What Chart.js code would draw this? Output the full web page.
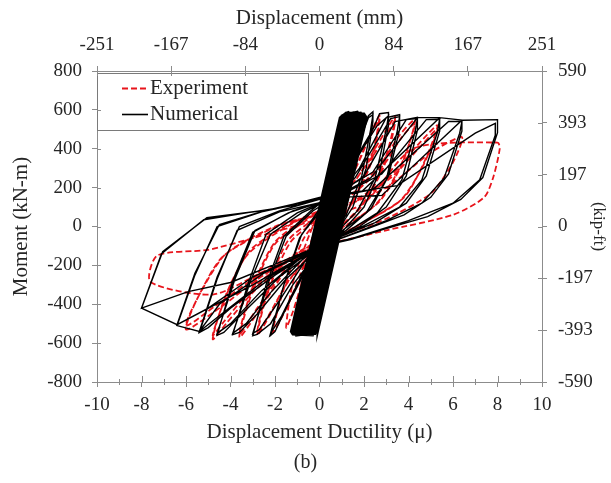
<!DOCTYPE html>
<html>
<head>
<meta charset="utf-8">
<script src="https://cdn.jsdelivr.net/npm/chart.js@4.4.1/dist/chart.umd.min.js"></script>
<style>
  html, body { margin: 0; padding: 0; background: #fff; }
  #c { display: block; }
</style>
</head>
<body>
<canvas id="c" width="611" height="483"></canvas>
<script>
// Moment vs displacement ductility, cyclic response of the column.
// Each pair is [ductility, moment (kN-m)] along the load path.

// Experiment: small cycles around the elastic range
const experimentSmall = [
  [0, 0],
  [0.25, 180], [0.5, 330], [0.35, 170], [0.05, 0], [-0.25, -170], [-0.5, -320], [-0.35, -160], [-0.05, 20],
  [0.5, 250], [1.0, 470], [0.75, 260], [0.15, 0], [-0.5, -230], [-1.0, -460], [-0.75, -250], [-0.15, 10],
  [0.6, 230], [1.2, 420], [1.5, 530], [1.2, 300], [0.3, 0], [-0.7, -260], [-1.2, -440], [-1.5, -520], [-1.2, -290], [-0.3, 0],
  [0.6, 180], [1.5, 420], [2.0, 560], [1.6, 320], [0.6, 40], [-0.4, -120], [-1.4, -400], [-2.1, -545], [-1.6, -320], [-0.7, -60]
];

// Experiment: inelastic cycles with pinching (two cycles per level)
const experimentLarge = [
  [0.4, 100], [1.6, 300], [2.3, 480], [2.7, 570], [2.3, 340], [1.3, 90], [0, -80], [-1.5, -300], [-2.3, -470], [-2.8, -560], [-2.3, -330], [-1.3, -80],
  [0, 50], [1.4, 250], [2.3, 470], [2.7, 550], [2.3, 320], [1.2, 70], [0, -90], [-1.4, -280], [-2.3, -460], [-2.8, -545], [-2.3, -310], [-1.4, -70],
  [0, 60], [1.5, 220], [2.7, 440], [3.4, 565], [2.9, 330], [1.9, 110], [0.5, -40], [-1.2, -180], [-2.7, -430], [-3.6, -570], [-3.0, -330], [-2.0, -90],
  [-0.5, 40], [1.3, 200], [2.8, 430], [3.4, 545], [2.9, 310], [1.8, 90], [0.4, -50], [-1.3, -190], [-2.8, -420], [-3.6, -555], [-3.0, -310], [-2.0, -80],
  [-0.6, 40], [1.2, 140], [2.8, 330], [3.6, 470], [4.3, 550], [3.7, 320], [2.7, 130], [1.0, -10], [-1.0, -140], [-3.0, -340], [-4.2, -500], [-4.8, -580], [-4.2, -350], [-3.2, -140],
  [-1.0, 30], [1.3, 150], [2.9, 320], [3.7, 460], [4.3, 530], [3.6, 300], [2.5, 110], [0.8, -20], [-1.2, -150], [-3.1, -330], [-4.3, -490], [-4.8, -560], [-4.1, -330], [-3.1, -120],
  [-1.2, 20], [1.0, 100], [3.0, 240], [4.5, 430], [5.3, 520], [4.7, 330], [3.8, 150], [2.0, 20], [0, -100], [-2.5, -250], [-4.5, -420], [-6.0, -530], [-5.4, -350], [-4.3, -150],
  [-1.6, 15], [1.0, 90], [3.2, 250], [4.6, 420], [5.3, 500], [4.6, 300], [3.6, 130], [1.8, 10], [0, -95], [-2.7, -250], [-4.7, -410], [-6.0, -510], [-5.3, -330], [-4.2, -140],
  [-2.0, 0], [0.5, 80], [3.0, 200], [5.0, 380], [6.4, 460], [6.0, 330], [5.0, 170], [3.0, 40], [0, -90], [-2.5, -230], [-4.8, -350], [-7.6, -285],
  [-7.3, -150], [-5.0, -120], [-3.0, -60], [0, 40], [2.0, 120], [4.2, 400], [8.0, 432],
  [8.1, 400], [7.8, 250], [7.4, 150], [6.0, 60], [3.0, -20], [0, -100]
];

// Numerical model: elastic cycles forming the dense core
const numericalElastic = [
  [0, 0],
  [-0.08, -540], [1.0, 0], [2.12, 560], [2.0, 580], [1.2, 585], [0.92, 560], [-0.2, 0], [-1.28, -540], [-1.2, -555], [-0.3, -560], [-0.23, -540],
  [0.85, 0], [1.97, 560], [1.85, 585], [1.1, 575], [1.07, 560], [-0.05, 0], [-1.13, -540], [-1.05, -560], [-0.4, -550], [-0.38, -540],
  [0.7, 0], [1.82, 560], [1.7, 590], [1.3, 580], [1.22, 560], [0.1, 0], [-0.98, -540], [-0.9, -555], [-0.55, -550], [-0.53, -540],
  [0.55, 0], [1.67, 560], [1.55, 575], [1.37, 560], [0.25, 0], [-0.83, -540], [-0.72, -552], [-0.68, -540],
  [0.4, 0], [1.52, 560], [1.3, 588], [1.0, 570], [0.995, 560], [-0.125, 0], [-1.2, -540], [-1.1, -555], [-0.2, -552], [-0.155, -540],
  [0.925, 0], [2.045, 560], [1.9, 578], [1.295, 560], [0.175, 0], [-0.905, -540],
  [-0.305, -540], [0.775, 0], [1.895, 560], [1.75, 582], [1.145, 560], [0.025, 0], [-1.055, -540], [-0.95, -552], [-0.455, -545],
  [0.625, 0], [1.745, 560], [1.6, 580], [1.445, 560], [0.325, 0], [-0.755, -540], [-0.65, -550], [-0.605, -540],
  [0.475, 0], [1.595, 560], [1.5, 585], [1.04, 560], [-0.08, 0]
];

// Numerical model: inelastic cycles (two cycles per level)
const numericalInelastic = [
  [0.2, 0], [1.5, 400], [2.2, 570], [2.4, 590],
  [2.4, 540], [2.1, 300], [1.5, 100], [0.6, -60], [-0.5, -200], [-1.5, -420], [-2.0, -540], [-2.2, -560],
  [-1.6, -300], [-0.8, -40], [0.2, 100], [1.3, 300], [2.2, 560], [2.4, 575],
  [2.3, 500], [1.9, 260], [1.2, 60], [0.3, -70], [-0.8, -250], [-1.7, -460], [-2.2, -550],
  [-1.6, -300], [-0.9, -60], [0, 90], [1.0, 230], [2.4, 500], [2.7, 580], [3.1, 586],
  [3.1, 520], [2.7, 280], [2.0, 100], [1.0, -30], [0, -120], [-1.2, -300], [-2.2, -500], [-2.8, -555], [-3.0, -562],
  [-2.4, -300], [-1.6, -50], [-0.4, 80], [0.8, 190], [2.6, 520], [3.1, 570],
  [3.0, 500], [2.5, 250], [1.7, 80], [0.6, -50], [-0.6, -170], [-1.8, -380], [-2.7, -530], [-3.0, -550],
  [-2.3, -290], [-1.5, -50], [-0.3, 80], [0.8, 160], [1.8, 300], [3.0, 560], [3.6, 575],
  [3.6, 500], [3.1, 260], [2.3, 90], [1.2, -20], [0, -110], [-1.5, -270], [-2.8, -450], [-3.6, -545], [-3.9, -556],
  [-3.2, -290], [-2.4, -40], [-1.0, 70], [0.4, 140], [1.6, 250], [3.2, 555], [3.6, 565],
  [3.5, 495], [3.0, 240], [2.1, 70], [0.8, -40], [-0.6, -150], [-2.2, -340], [-3.3, -500], [-3.9, -550],
  [-3.1, -280], [-2.2, -40], [-0.8, 70], [0.5, 140], [2.0, 260], [3.4, 540], [4.4, 562],
  [4.4, 495], [3.9, 260], [3.0, 100], [1.8, 0], [0, -105], [-1.8, -260], [-3.4, -440], [-4.3, -545], [-4.6, -560],
  [-3.9, -280], [-3.0, -30], [-1.4, 70], [0.2, 130], [2.4, 280], [3.9, 550], [4.4, 555],
  [4.3, 490], [3.7, 240], [2.6, 70], [1.2, -30], [-0.6, -140], [-2.6, -330], [-4.0, -500], [-4.6, -550],
  [-3.8, -270], [-2.9, -20], [-1.2, 80], [0.5, 140], [2.3, 250], [4.4, 560], [5.4, 560],
  [5.4, 490], [4.8, 260], [3.9, 120], [2.5, 20], [1.0, -50], [0, -105], [-2.0, -250], [-4.0, -420], [-5.0, -520], [-5.4, -545],
  [-4.6, -270], [-3.7, -20], [-1.8, 75], [0.5, 135], [2.8, 270], [4.8, 550], [5.4, 552],
  [5.3, 485], [4.6, 240], [3.6, 100], [2.0, 5], [0, -100], [-2.4, -270], [-4.4, -450], [-5.4, -540],
  [-4.6, -260], [-3.6, 0], [-1.8, 80], [0, 140], [1.9, 180], [5.4, 560], [6.4, 547],
  [6.4, 490], [5.8, 270], [5.0, 150], [3.8, 60], [2.2, -10], [1.0, -60], [0, -105], [-2.5, -240], [-4.5, -400], [-5.4, -540], [-6.4, -510],
  [-5.6, -250], [-4.6, 0], [-2.6, 75], [0, 140], [2.4, 190], [5.8, 540], [6.4, 540],
  [6.3, 480], [5.6, 250], [4.6, 120], [3.0, 30], [1.2, -50], [0, -100], [-3.0, -260], [-5.0, -420], [-6.4, -505],
  [-5.6, -240], [-4.5, 10], [-2.5, 80], [0, 145], [2.8, 160], [6.4, 547], [8.0, 550],
  [8.0, 483], [7.34, 252], [6.35, 139], [4.86, 51], [2.88, -15], [1.4, -67], [0, -103], [-3.0, -300], [-6.4, -505], [-8.0, -420],
  [-7.05, -130], [-5.06, 45], [-2.0, 90], [0, 150], [3.5, 210], [7.0, 480], [7.9, 530],
  [7.9, 470], [7.2, 240], [6.0, 120], [4.0, 30], [1.5, -60], [0, -100], [-4.0, -288], [-5.9, -335], [-8.0, -420],
  [-7.1, -140], [-5.2, 35], [-3.0, 75], [-1.0, 110]
];

// Secondary axis tick labels (same positions as the primary ticks, converted units)
const mmTickValues = [-251, -167.33, -83.67, 0, 83.67, 167.33, 251];
const mmTickLabels = ['-251', '-167', '-84', '0', '84', '167', '251'];
const kipftTickValues = [-590, -393.33, -196.67, 0, 196.67, 393.33, 590];
const kipftTickLabels = ['-590', '-393', '-197', '0', '197', '393', '590'];

const toPoints = arr => arr.map(([x, y]) => ({ x, y }));

const SERIF = '"Liberation Serif", "Times New Roman", serif';
const TEXT = '#262626';
const AXIS = '#8c8c8c';
const CORE_SEGMENTS = numericalElastic.length;

// White page background
const whiteBg = {
  id: 'whiteBg',
  beforeDraw(chart) {
    const { ctx, width, height } = chart;
    ctx.save();
    ctx.fillStyle = '#fff';
    ctx.fillRect(0, 0, width, height);
    ctx.restore();
  }
};

// Tick marks crossing the frame, plus minor ticks on the ductility axis
const crossTicks = {
  id: 'crossTicks',
  afterDraw(chart) {
    const { ctx, chartArea: a, scales } = chart;
    ctx.save();
    ctx.strokeStyle = AXIS;
    ctx.lineWidth = 1;
    ctx.beginPath();
    scales.x.ticks.forEach(t => {
      const px = Math.round(scales.x.getPixelForValue(t.value)) + 0.5;
      ctx.moveTo(px, a.bottom); ctx.lineTo(px, a.bottom - 6);
    });
    for (let v = -9; v <= 9; v += 2) {
      const px = Math.round(scales.x.getPixelForValue(v)) + 0.5;
      ctx.moveTo(px, a.bottom - 3); ctx.lineTo(px, a.bottom + 3);
    }
    scales.x2.ticks.forEach(t => {
      const px = Math.round(scales.x2.getPixelForValue(t.value)) + 0.5;
      ctx.moveTo(px, a.top); ctx.lineTo(px, a.top + 5);
    });
    scales.y.ticks.forEach(t => {
      const py = Math.round(scales.y.getPixelForValue(t.value)) + 0.5;
      ctx.moveTo(a.left, py); ctx.lineTo(a.left + 4, py);
    });
    scales.y2.ticks.forEach(t => {
      const py = Math.round(scales.y2.getPixelForValue(t.value)) + 0.5;
      ctx.moveTo(a.right, py); ctx.lineTo(a.right - 4, py);
    });
    ctx.stroke();
    ctx.restore();
  }
};

// Framed legend in the upper-left corner of the plot
const boxedLegend = {
  id: 'boxedLegend',
  afterDatasetsDraw(chart) {
    const { ctx, chartArea: a } = chart;
    const left = a.left, top = a.top + 2, w = 211, h = 57;
    ctx.save();
    ctx.fillStyle = '#fff';
    ctx.fillRect(left, top, w, h);
    ctx.strokeStyle = '#7a7a7a';
    ctx.lineWidth = 1;
    ctx.strokeRect(left + 0.5, top + 0.5, w, h);
    ctx.font = '21px ' + SERIF;
    ctx.textBaseline = 'middle';
    ctx.textAlign = 'left';
    chart.data.datasets.forEach((ds, i) => {
      const y = top + 15 + 26 * i;
      ctx.strokeStyle = ds.borderColor;
      ctx.lineWidth = ds.legendLineWidth;
      ctx.setLineDash(ds.borderDash || []);
      ctx.beginPath();
      ctx.moveTo(left + 25, y + 0.5);
      ctx.lineTo(left + 51, y + 0.5);
      ctx.stroke();
      ctx.setLineDash([]);
      ctx.fillStyle = TEXT;
      ctx.fillText(ds.label, left + 53, y);
    });
    ctx.restore();
  }
};

const tickFont = { family: SERIF, size: 19 };
const titleFont = { family: SERIF, size: 21 };

new Chart(document.getElementById('c'), {
  type: 'scatter',
  data: {
    datasets: [
      {
        label: 'Experiment',
        data: toPoints(experimentSmall.concat(experimentLarge)),
        showLine: true,
        borderColor: '#e8141b',
        borderWidth: 1.8,
        borderDash: [6, 3],
        legendLineWidth: 2,
        tension: 0.25,
        pointRadius: 0,
        order: 1
      },
      {
        label: 'Numerical',
        data: toPoints(numericalElastic.concat(numericalInelastic)),
        showLine: true,
        borderColor: '#000000',
        borderWidth: 1.4,
        legendLineWidth: 1.6,
        tension: 0,
        pointRadius: 0,
        order: 0,
        // the many overlapping elastic cycles render as a heavier band
        segment: { borderWidth: c => (c.p1DataIndex < CORE_SEGMENTS ? 2.4 : undefined) }
      }
    ]
  },
  options: {
    responsive: false,
    animation: false,
    events: [],
    layout: { padding: 0 },
    plugins: {
      legend: { display: false },
      tooltip: { enabled: false },
      title: {
        display: true,
        position: 'bottom',
        text: '(b)',
        color: TEXT,
        font: { family: SERIF, size: 20, weight: 'normal' },
        padding: { top: 0, bottom: 8 }
      }
    },
    scales: {
      x: {
        type: 'linear',
        position: 'bottom',
        min: -10, max: 10,
        afterFit: s => { s.height = 69; },
        ticks: { stepSize: 2, font: tickFont, color: TEXT, padding: 7, maxRotation: 0, autoSkip: false },
        grid: { drawOnChartArea: false, drawTicks: true, tickLength: 5, color: AXIS },
        border: { display: true, color: AXIS, width: 1 },
        title: { display: true, text: 'Displacement Ductility (μ)', font: titleFont, color: TEXT, padding: { top: 0, bottom: 6 } }
      },
      x2: {
        type: 'linear',
        position: 'top',
        min: -251, max: 251,
        afterFit: s => { s.height = 71; },
        afterBuildTicks: s => { s.ticks = mmTickValues.map(v => ({ value: v })); },
        ticks: { font: tickFont, color: TEXT, padding: 10, maxRotation: 0, autoSkip: false,
                 callback: (v, i) => mmTickLabels[i] },
        grid: { drawOnChartArea: false, drawTicks: true, tickLength: 5, color: AXIS },
        border: { display: true, color: AXIS, width: 1 },
        title: { display: true, text: 'Displacement (mm)', font: titleFont, color: TEXT, padding: { top: 6, bottom: 0 } }
      },
      y: {
        type: 'linear',
        position: 'left',
        min: -800, max: 800,
        afterFit: s => { s.width = 97; },
        ticks: { stepSize: 200, font: tickFont, color: TEXT, padding: 10, autoSkip: false },
        grid: { drawOnChartArea: false, drawTicks: true, tickLength: 5, color: AXIS },
        border: { display: true, color: AXIS, width: 1 },
        title: { display: true, text: 'Moment (kN-m)', font: titleFont, color: TEXT, padding: { top: 9, bottom: 0 } }
      },
      y2: {
        type: 'linear',
        position: 'right',
        min: -590, max: 590,
        afterFit: s => { s.width = 69; },
        afterBuildTicks: s => { s.ticks = kipftTickValues.map(v => ({ value: v })); },
        ticks: { font: tickFont, color: TEXT, padding: 11, autoSkip: false,
                 callback: (v, i) => kipftTickLabels[i] },
        grid: { drawOnChartArea: false, drawTicks: true, tickLength: 5, color: AXIS },
        border: { display: true, color: AXIS, width: 1 },
        title: { display: true, text: '(kip-ft)', font: { family: SERIF, size: 17 }, color: TEXT, padding: { top: 2, bottom: 0 } }
      }
    }
  },
  plugins: [whiteBg, crossTicks, boxedLegend]
});
</script>
</body>
</html>
